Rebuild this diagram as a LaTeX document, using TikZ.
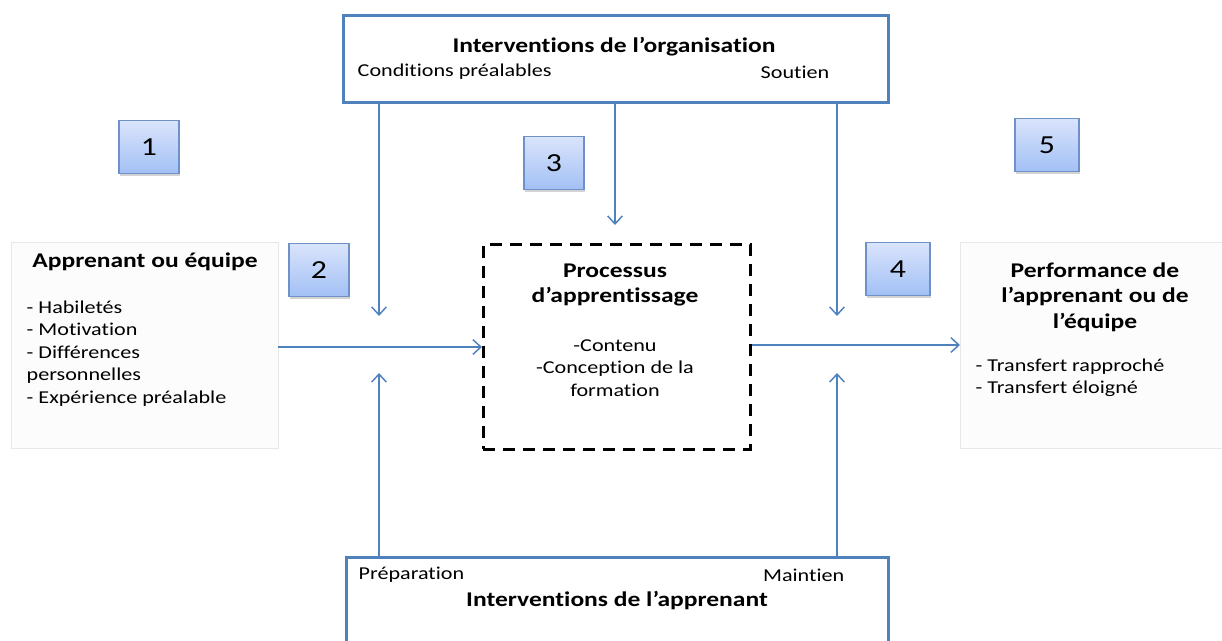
\documentclass[tikz,border=0pt]{standalone}
\usepackage{fontspec}
\setmainfont{Carlito}[FakeStretch=1.22,Ligatures=NoCommon]
\usetikzlibrary{arrows.meta,shadows,calc}
\definecolor{linkblue}{RGB}{79,129,189}
\definecolor{numtop}{RGB}{218,228,252}
\definecolor{numbot}{RGB}{162,192,245}
\definecolor{numedge}{RGB}{110,145,200}
\definecolor{panelgray}{RGB}{252,252,252}
\definecolor{paneledge}{RGB}{232,232,232}
\tikzset{
  px/.style={x=0.75pt,y=-0.75pt},
  bigframe/.style={draw=linkblue,line width=2.2pt,fill=white,inner sep=0pt},
  panel/.style={draw=paneledge,line width=0.5pt,fill=panelgray,inner sep=0pt},
  procbox/.style={draw=black,line width=2.2pt,dash pattern=on 9pt off 6pt,inner sep=0pt},
  numbox/.style={draw=numedge,line width=0.8pt,top color=numtop,bottom color=numbot,
    minimum width=45pt,minimum height=40pt,inner sep=0pt,font=\fontsize{19.5}{22}\selectfont,
    drop shadow={shadow xshift=1pt,shadow yshift=-1.5pt,opacity=0.35}},
  arr/.style={draw=linkblue,line width=1.1pt,-{Straight Barb[length=6pt,width=11pt,line width=1.1pt]}},
  title/.style={font=\bfseries\fontsize{15.7}{19}\selectfont,align=center},
  body/.style={font=\fontsize{13.6}{16.9}\selectfont},
}
\begin{document}
\begin{tikzpicture}[px]
\useasboundingbox (0,0) rectangle (1222,641);

% side panels and process box
\node[panel,minimum width=200pt,minimum height=154.5pt,anchor=north west] (learner) at (11,242) {};
\node[panel,minimum width=196.5pt,minimum height=154.5pt,anchor=north west] (perf) at (960,242) {};
\node[procbox,minimum width=200pt,minimum height=153.75pt,anchor=north west] (proc) at (482,243) {};

% top and bottom frames
\node[bigframe,minimum width=408.75pt,minimum height=65.25pt,anchor=north west] (org) at (342,14) {};
\node[bigframe,minimum width=406.5pt,minimum height=80pt,anchor=north west] (app) at (345,556) {};

% frame texts
\node[title] (orgtitle) at (614,47) {Interventions de l’organisation};
\node[body,anchor=west] (cond) at (353,72) {Conditions préalables};
\node[body,anchor=east] (sout) at (834,72) {Soutien};
\node[body,anchor=west] (prep) at (354,575) {Préparation};
\node[body,anchor=east] (maint) at (849,575) {Maintien};
\node[title] (apptitle) at (617,601) {Interventions de l’apprenant};

% learner panel texts
\node[title] (ltitle) at (145,262) {Apprenant ou équipe};
\node[body,anchor=north west,align=left] (llist) at (22,296)
  {- Habiletés\\- Motivation\\- Différences\\personnelles\\- Expérience préalable};

% process texts
\node[title] (ptitle) at (615,285) {Processus\\d’apprentissage};
\node[body,align=center] (plist) at (615,368) {-Contenu\\-Conception de la\\formation};

% performance panel texts
\node[title] (rtitle) at (1095,297) {Performance de\\l’apprenant ou de\\l’équipe};
\node[body,anchor=north west,align=left] (rlist) at (971,354) {- Transfert rapproché\\- Transfert éloigné};

% numbered markers
\node[numbox] (n1) at (149,147) {1};
\node[numbox] (n2) at (319,270) {2};
\node[numbox] (n3) at (554,163) {3};
\node[numbox,minimum width=48pt] (n4) at (898,269) {4};
\node[numbox,minimum width=48pt] (n5) at (1047,145) {5};

% arrow end points
\coordinate (ta) at (379,316);
\coordinate (tb) at (615,225);
\coordinate (tc) at (837,316);
\coordinate (ba) at (379,373);
\coordinate (bc) at (837,373);

% connectors
\draw[arr] (learner.east |- 0,347) -- (proc.west |- 0,347);
\draw[arr] (proc.east |- 0,345) -- (perf.west |- 0,345);
\draw[arr] (org.south -| ta) -- (ta);
\draw[arr] (org.south -| tb) -- (tb);
\draw[arr] (org.south -| tc) -- (tc);
\draw[arr] (app.north -| ba) -- (ba);
\draw[arr] (app.north -| bc) -- (bc);
\end{tikzpicture}
\end{document}
